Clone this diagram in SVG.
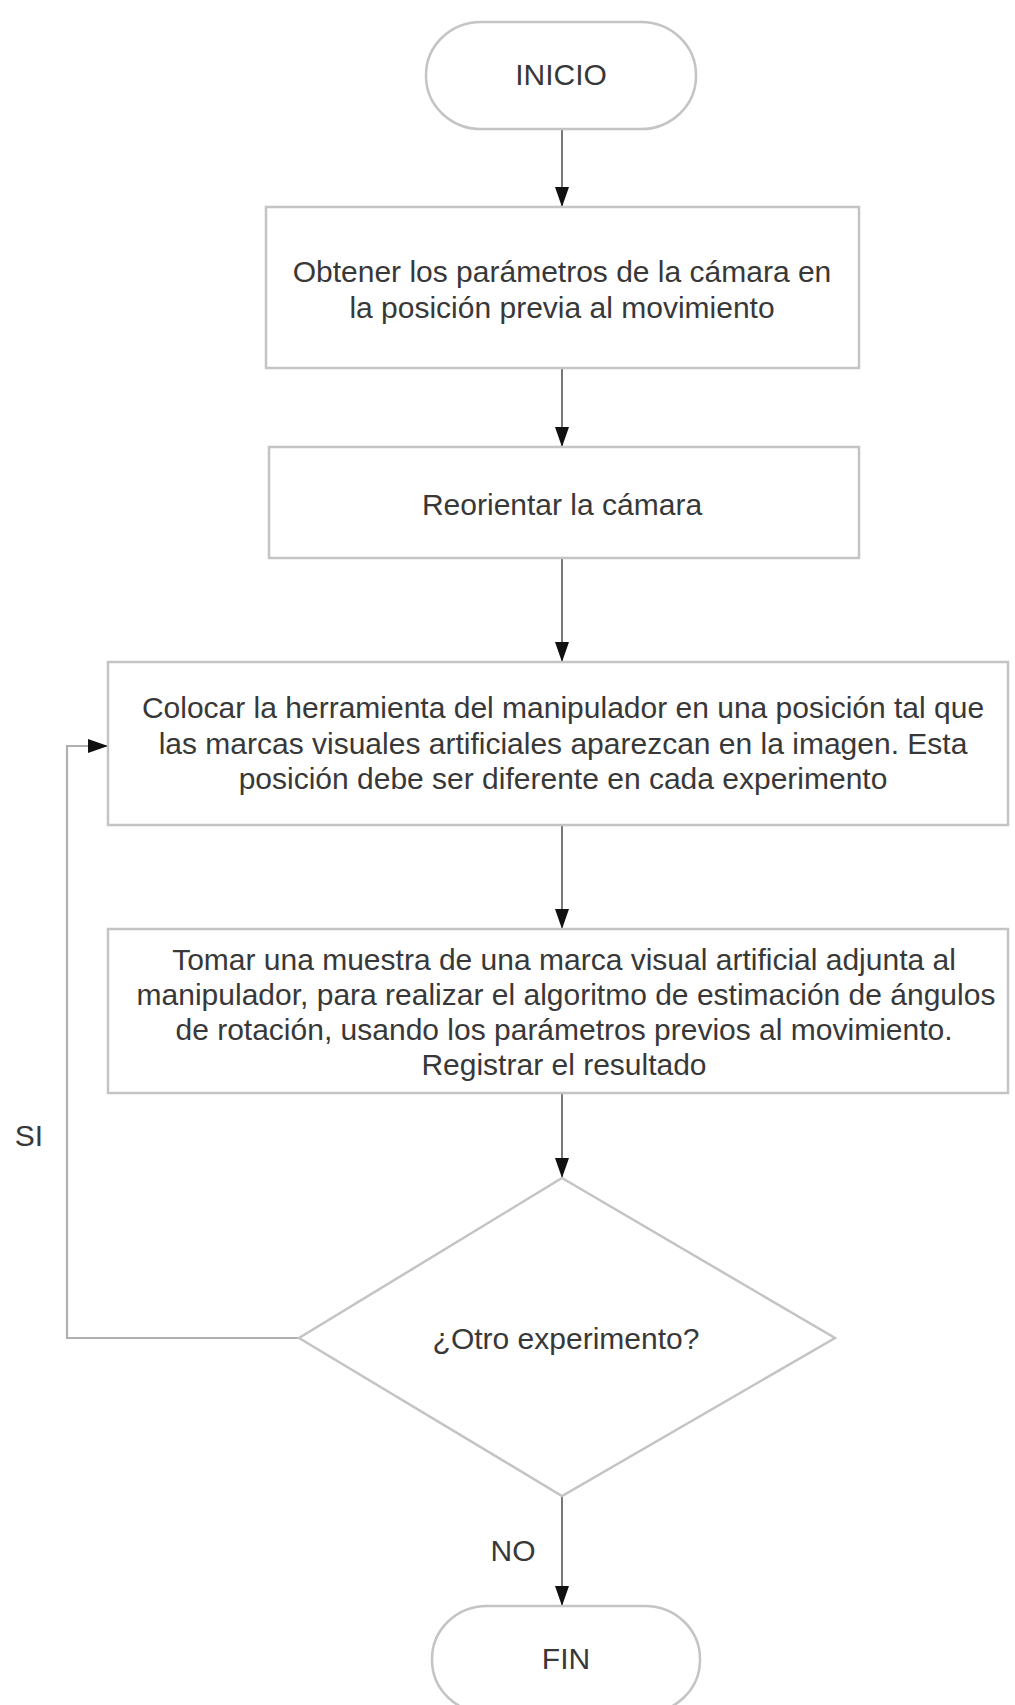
<svg xmlns="http://www.w3.org/2000/svg" width="1015" height="1705" viewBox="0 0 1015 1705">
<defs>
<marker id="ah" markerUnits="userSpaceOnUse" markerWidth="20" markerHeight="14" viewBox="0 0 20 14" refX="20" refY="7" orient="auto">
<path d="M0,0 L20,7 L0,14 z" fill="#111"/>
</marker>
</defs>
<style>
.shape{fill:#fff;stroke:#c4c4c4;stroke-width:2.5}
.t{font-family:"Liberation Sans",Arial,sans-serif;font-size:30px;fill:#383838;text-anchor:middle}
.c{fill:none;stroke:#6a6a6a;stroke-width:1.8}
.loop{fill:none;stroke:#b0b0b0;stroke-width:2.2}
</style>
<rect width="1015" height="1705" fill="#fff"/>
<g id="connectors">
<line class="c" x1="562" y1="129" x2="562" y2="207" marker-end="url(#ah)"/>
<line class="c" x1="562" y1="368" x2="562" y2="447" marker-end="url(#ah)"/>
<line class="c" x1="562" y1="558" x2="562" y2="662" marker-end="url(#ah)"/>
<line class="c" x1="562" y1="825" x2="562" y2="929" marker-end="url(#ah)"/>
<line class="c" x1="562" y1="1093" x2="562" y2="1178" marker-end="url(#ah)"/>
<line class="c" x1="562" y1="1496" x2="562" y2="1606" marker-end="url(#ah)"/>
<polyline class="loop" points="299,1338 67,1338 67,746 90,746"/>
<line class="c" x1="88" y1="746" x2="108" y2="746" marker-end="url(#ah)"/>
<text class="t" x="29" y="1146">SI</text>
<text class="t" x="513" y="1561">NO</text>
</g>
<g id="inicio">
<rect class="shape" x="426" y="22" width="270" height="107" rx="55" ry="53"/>
<text class="t" x="561" y="85">INICIO</text>
</g>
<g id="obtener">
<rect class="shape" x="266" y="207" width="593" height="161"/>
<text class="t" x="562" y="282">Obtener los parámetros de la cámara en</text>
<text class="t" x="562" y="318">la posición previa al movimiento</text>
</g>
<g id="reorientar">
<rect class="shape" x="269" y="447" width="590" height="111"/>
<text class="t" x="562" y="515">Reorientar la cámara</text>
</g>
<g id="colocar">
<rect class="shape" x="108" y="662" width="900" height="163"/>
<text class="t" x="563" y="718">Colocar la herramienta del manipulador en una posición tal que</text>
<text class="t" x="563" y="754">las marcas visuales artificiales aparezcan en la imagen. Esta</text>
<text class="t" x="563" y="789">posición debe ser diferente en cada experimento</text>
</g>
<g id="tomar">
<rect class="shape" x="108" y="929" width="900" height="164"/>
<text class="t" x="564" y="970">Tomar una muestra de una marca visual artificial adjunta al</text>
<text class="t" x="566" y="1005">manipulador, para realizar el algoritmo de estimación de ángulos</text>
<text class="t" x="564" y="1040">de rotación, usando los parámetros previos al movimiento.</text>
<text class="t" x="564" y="1075">Registrar el resultado</text>
</g>
<g id="decision">
<polygon class="shape" points="562,1178 835,1338 562,1496 299,1338"/>
<text class="t" x="566" y="1349">¿Otro experimento?</text>
</g>
<g id="fin">
<rect class="shape" x="432" y="1606" width="268" height="107" rx="55" ry="53"/>
<text class="t" x="566" y="1669">FIN</text>
</g>
</svg>
